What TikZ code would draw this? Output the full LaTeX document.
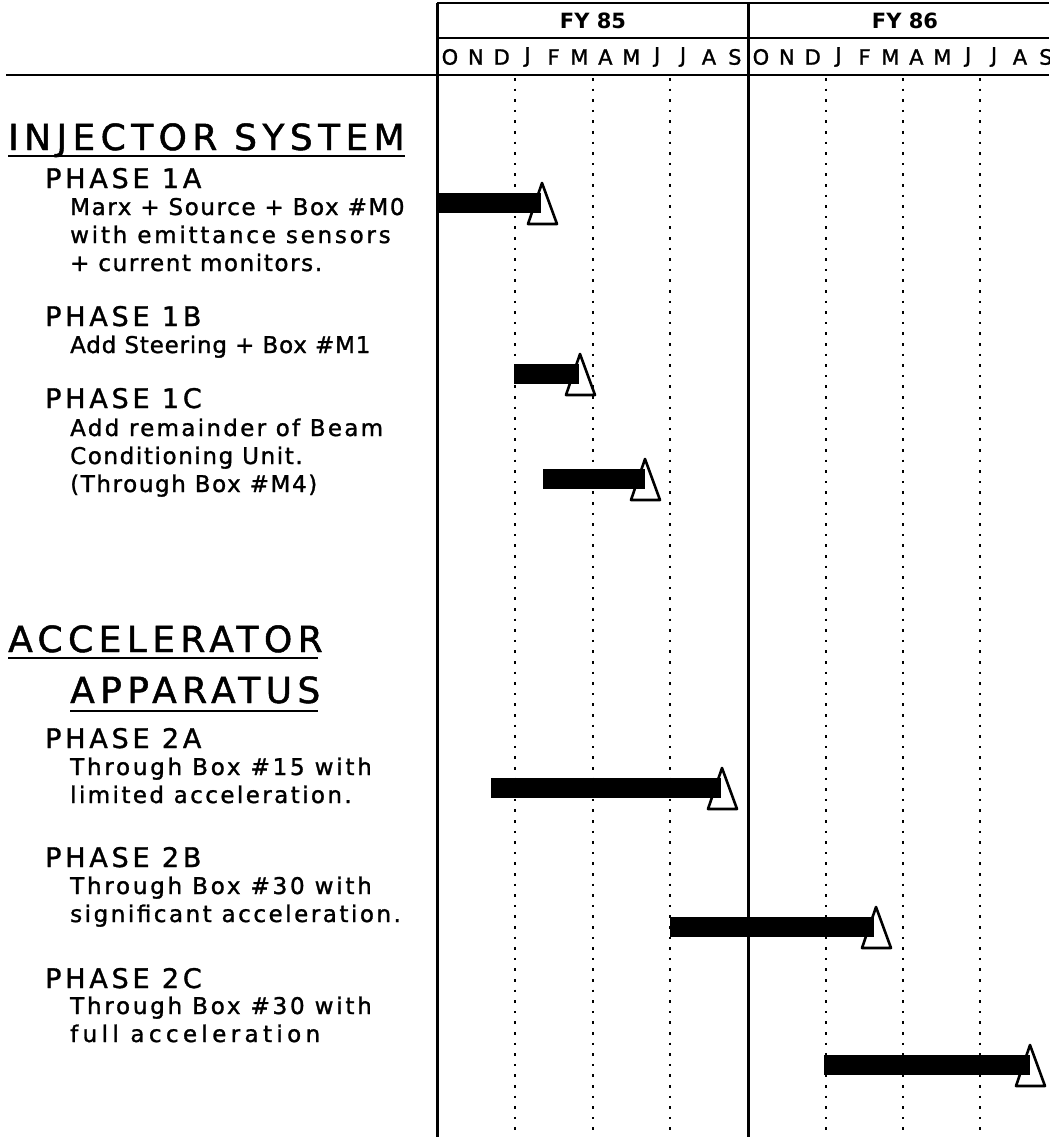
\documentclass[tikz,border=0pt]{standalone}
\usepackage{fontspec}
\setmainfont{DejaVu Sans}
\newfontfamily\hfont[LetterSpace=15,FakeBold=1.3]{DejaVu Sans}
\newfontfamily\pfont[LetterSpace=14,FakeBold=1.3]{DejaVu Sans}
\newfontfamily\bfont[LetterSpace=7,FakeBold=1.3]{DejaVu Sans}
\newfontfamily\mfont[LetterSpace=0,FakeBold=1.3]{DejaVu Sans}
\newfontfamily\fyfont{DejaVu Sans Bold}
\newcommand{\ls}[1]{\addfontfeatures{LetterSpace=#1}}
\begin{document}
\begin{tikzpicture}[x=1pt,y=-1pt,
  gridline/.style={line width=3pt},
  hline/.style={line width=2.6pt},
  dotline/.style={line width=2.6pt, dash pattern=on 2.6pt off 8pt},
  ulline/.style={line width=2.4pt},
  barfill/.style={fill=black},
  flag/.style={draw=black, line width=2.6pt, fill=white, line join=round},
  head/.style={font=\hfont\fontsize{36}{36}\selectfont, anchor=base west, inner sep=0},
  phase/.style={font=\pfont\fontsize{27}{27}\selectfont, anchor=base west, inner sep=0},
  body/.style={font=\bfont\fontsize{23}{23}\selectfont, anchor=base west, inner sep=0},
  fy/.style={font=\fyfont\fontsize{21}{21}\selectfont, inner sep=0},
  mon/.style={font=\mfont\fontsize{21}{21}\selectfont, inner sep=0}
]
\useasboundingbox (0,0) rectangle (1049,1137);
\fill[white] (0,0) rectangle (1049,1137);

% grid
\foreach \x in {515,593,670,826,903,980}
  \draw[dotline] (\x,78) -- (\x,1137);
\draw[gridline] (437,3) -- (437,1137);
\draw[gridline] (748,3) -- (748,1137);
\draw[hline] (437,3) -- (1049,3);
\draw[hline] (437,38) -- (1049,38);
\draw[hline] (6,75) -- (1049,75);

% header
\node[fy] (fy85) at (593,21) {FY 85};
\node[fy] (fy86) at (905,21) {FY 86};
\foreach \m [count=\i from 0] in {O,N,D,J,F,M,A,M,J,J,A,S}{
  \node[mon] (ma\i) at ({437+25.9*(\i+0.5)},57) {\m};
  \node[mon] (mb\i) at ({748+25.9*(\i+0.5)},57) {\m};
}

% bars
\newcommand{\gbar}[4]{% x0, x1, ytop, apex x
  \draw[flag] (#4,#3-11) -- (#4+15,#3+30) -- (#4-14,#3+30) -- cycle;
  \fill[barfill] (#1,#3-1) rectangle (#2,#3+19);
}
\gbar{437}{541}{194}{542}
\gbar{514}{579}{365}{580}
\gbar{543}{645}{470}{645}
\gbar{491}{721}{779}{722}
\gbar{670}{874}{918}{876}
\gbar{824}{1030}{1056}{1030}

% texts
\node[head] (inj) at (8,150) {INJECTOR SYSTEM};
\draw[ulline] (8,156) -- (405,156);
\node[phase] (p1a) at (45,188) {PHASE 1A};
\node[body] (t1a1) at (70,215) {Marx + Source + Box \#M0};
\node[body] (t1a2) at (70,243) {\ls{12}with emittance sensors};
\node[body] (t1a3) at (70,271) {+ current monitors.};
\node[phase] (p1b) at (45,326) {PHASE 1B};
\node[body] (t1b1) at (70,353) {\ls{3.5}Add Steering + Box \#M1};
\node[phase] (p1c) at (45,408) {PHASE 1C};
\node[body] (t1c1) at (70,436) {\ls{10}Add remainder of Beam};
\node[body] (t1c2) at (70,464) {Conditioning Unit.};
\node[body] (t1c3) at (70,492) {(Through Box \#M4)};

\node[head] (acc) at (8,652) {ACCELERATOR};
\draw[ulline] (8,658) -- (318,658);
\node[head] (app) at (70,703) {APPARATUS};
\draw[ulline] (70,711) -- (318,711);
\node[phase] (p2a) at (45,748) {PHASE 2A};
\node[body] (t2a1) at (70,775) {\ls{12}Through Box \#15 with};
\node[body] (t2a2) at (70,803) {\ls{10.5}limited acceleration.};
\node[phase] (p2b) at (45,867) {PHASE 2B};
\node[body] (t2b1) at (70,894) {\ls{12}Through Box \#30 with};
\node[body] (t2b2) at (70,922) {\ls{11}significant acceleration.};
\node[phase] (p2c) at (45,988) {PHASE 2C};
\node[body] (t2c1) at (70,1014) {\ls{12}Through Box \#30 with};
\node[body] (t2c2) at (70,1042) {\ls{19}full acceleration};
\end{tikzpicture}
\end{document}
